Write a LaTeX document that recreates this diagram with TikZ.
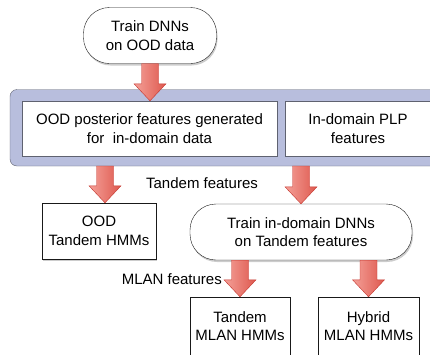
\documentclass[tikz,border=0pt]{standalone}
\usepackage{fontspec}
\setmainfont{Liberation Sans}
\usepackage{tikz}
\usetikzlibrary{positioning, calc, shadows}

\definecolor{panelblue}{RGB}{184,190,221}
\definecolor{panelline}{RGB}{95,98,112}
\definecolor{arrowlight}{RGB}{244,160,152}
\definecolor{arrowdark}{RGB}{222,88,78}
\definecolor{arrowline}{RGB}{196,52,44}

% fat block arrow, x taken from the end point
\newcommand{\fatarrow}[2]{%
  \shade[flow] let \p1=(#1), \p2=(#2) in
    (\x2-8.5pt,\y1) -- (\x2-8.5pt,\y2+17pt) -- (\x2-16pt,\y2+17pt) -- (\x2,\y2)
    -- (\x2+16pt,\y2+17pt) -- (\x2+8.5pt,\y2+17pt) -- (\x2+8.5pt,\y1) -- cycle;}

\begin{document}
\begin{tikzpicture}[
        x=1pt, y=-1pt,
        % Define styles for consistency
        txt/.style={font=\fontsize{15}{18.7}\selectfont, align=center},
        box/.style={txt, draw=black!90, fill=white, inner sep=0pt,
            drop shadow={opacity=0.4, shadow xshift=1pt, shadow yshift=-2pt}},
        pill/.style={box, rounded corners=26pt},
        flat/.style={txt, draw=panelline, fill=white, inner sep=0pt},
        panel/.style={draw=panelline, fill=panelblue, rounded corners=7pt},
        flow/.style={draw=arrowline, left color=arrowlight, right color=arrowdark},
        tag/.style={txt, inner sep=0pt}
    ]

        \useasboundingbox (0,0) rectangle (430,354);
        \clip (0,0) rectangle (430,354);

        % --- Top ---
        \node[pill, minimum width=133pt, minimum height=56pt] (ooddnn) at (150,35.5)
            {Train DNNs\\on OOD data};

        % --- Feature panel ---
        \draw[panel] (10,89.5) rectangle (444,166);
        \node[flat, minimum width=255pt, minimum height=55pt] (posterior) at (149.5,128.5)
            {OOD posterior features generated\\for \ in-domain data};
        \node[flat, minimum width=146pt, minimum height=55pt] (plp) at (358,128.5)
            {In-domain PLP\\features};
        \coordinate (panelbot) at (10,166);

        % --- Middle row ---
        \node[box, minimum width=114pt, minimum height=56pt] (oodhmm) at (99,231)
            {OOD\\Tandem HMMs};
        \node[pill, minimum width=222pt, minimum height=56pt] (indnn) at (301,232)
            {Train in-domain DNNs\\on Tandem features};

        % --- Bottom row ---
        \node[box, minimum width=100pt, minimum height=58pt] (tandemhmm) at (240,326)
            {Tandem\\MLAN HMMs};
        \node[box, minimum width=101pt, minimum height=58pt] (hybridhmm) at (368.5,326)
            {Hybrid\\MLAN HMMs};

        % --- Labels ---
        \node[tag] (tandemtag) at (202,183) {Tandem features};
        \node[tag, anchor=east] (mlantag) at (222,279) {MLAN features};

        % --- Arrows ---
        \coordinate (oodin) at ($(oodhmm.north)+(6pt,0)$);
        \fatarrow{ooddnn.south}{ooddnn.south |- posterior.north}
        \fatarrow{panelbot}{oodin}
        \fatarrow{panelbot}{indnn.north}
        \fatarrow{indnn.south}{tandemhmm.north}
        \fatarrow{indnn.south}{hybridhmm.north}

    \end{tikzpicture}
\end{document}
